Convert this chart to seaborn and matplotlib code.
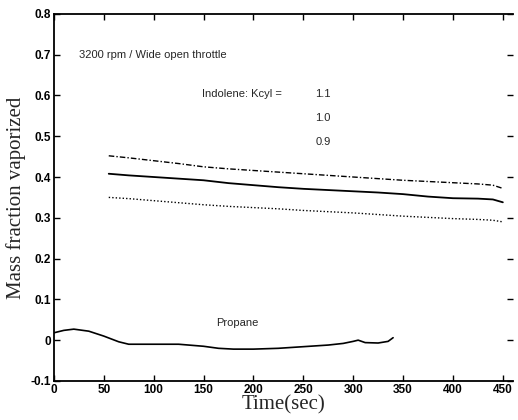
import matplotlib
matplotlib.use("Agg")
import matplotlib.pyplot as plt
import seaborn as sns
import pandas as pd

# Indolene series (time in sec)
t_ind = [55, 75, 100, 125, 150, 175, 200, 225, 250, 275, 300, 325, 350, 375, 400, 425, 440, 450]
k11 = [0.452, 0.447, 0.440, 0.433, 0.425, 0.420, 0.416, 0.412, 0.408, 0.404, 0.400, 0.396, 0.392, 0.389, 0.386, 0.383, 0.380, 0.372]
k10 = [0.408, 0.404, 0.400, 0.396, 0.392, 0.385, 0.380, 0.375, 0.371, 0.368, 0.365, 0.362, 0.358, 0.352, 0.348, 0.347, 0.345, 0.338]
k09 = [0.350, 0.347, 0.342, 0.337, 0.332, 0.328, 0.325, 0.322, 0.318, 0.315, 0.312, 0.308, 0.304, 0.301, 0.298, 0.296, 0.294, 0.290]

# Propane series
t_prop = [0, 10, 20, 35, 50, 65, 75, 100, 125, 150, 165, 180, 200, 225, 250, 275, 290, 300, 305, 312, 325, 335, 340]
prop = [0.018, 0.024, 0.027, 0.022, 0.010, -0.004, -0.010, -0.010, -0.010, -0.015, -0.020, -0.022, -0.022, -0.020, -0.016, -0.012, -0.008, -0.003, 0.000, -0.006, -0.007, -0.003, 0.006]

xticks = [0, 50, 100, 150, 200, 250, 300, 350, 400, 450]
yticks = [-0.1, 0, 0.1, 0.2, 0.3, 0.4, 0.5, 0.6, 0.7, 0.8]
ytick_labels = ["-0.1", "0", "0.1", "0.2", "0.3", "0.4", "0.5", "0.6", "0.7", "0.8"]

sns.set_style("ticks")
plt.rcParams["font.family"] = ["Liberation Sans", "DejaVu Sans"]

fig = plt.figure(figsize=(5.18, 4.2), dpi=100)
ax = fig.add_axes([0.104, 0.093, 0.886, 0.874])

sns.lineplot(x=t_ind, y=k11, ax=ax, color="black", linestyle=(0, (4, 1.5, 1, 1.5)), linewidth=1.0)
sns.lineplot(x=t_ind, y=k10, ax=ax, color="black", linestyle="-", linewidth=1.3)
sns.lineplot(x=t_ind, y=k09, ax=ax, color="black", linestyle=(0, (1, 1.5)), linewidth=1.0)
sns.lineplot(x=t_prop, y=prop, ax=ax, color="black", linestyle="-", linewidth=1.2)

ax.set_xlim(0, 460)
ax.set_ylim(-0.1, 0.8)
ax.set_xticks(xticks)
ax.set_xticklabels([str(v) for v in xticks])
ax.set_yticks(yticks)
ax.set_yticklabels(ytick_labels)
ax.tick_params(direction="in", length=4, width=1, labelsize=8.5, pad=2,
               top=True, right=True, colors="black")
for lab in ax.get_xticklabels() + ax.get_yticklabels():
    lab.set_fontweight("bold")

for s in ["left", "bottom", "top"]:
    ax.spines[s].set_linewidth(1.3)
    ax.spines[s].set_color("black")
ax.spines["right"].set_visible(False)

ax.set_xlabel("Time(sec)", fontfamily="Liberation Serif", fontsize=15, labelpad=0)
ax.set_ylabel("Mass fraction vaporized", fontfamily="Liberation Serif", fontsize=15, labelpad=3)

ax.text(25, 0.70, "3200 rpm / Wide open throttle", fontsize=8, va="center", ha="left")
ax.text(148, 0.603, "Indolene: Kcyl =", fontsize=8, va="center", ha="left")
ax.text(262, 0.603, "1.1", fontsize=8, va="center", ha="left")
ax.text(262, 0.545, "1.0", fontsize=8, va="center", ha="left")
ax.text(262, 0.486, "0.9", fontsize=8, va="center", ha="left")
ax.text(163, 0.043, "Propane", fontsize=8, va="center", ha="left")

fig.savefig("out.png", dpi=100)
